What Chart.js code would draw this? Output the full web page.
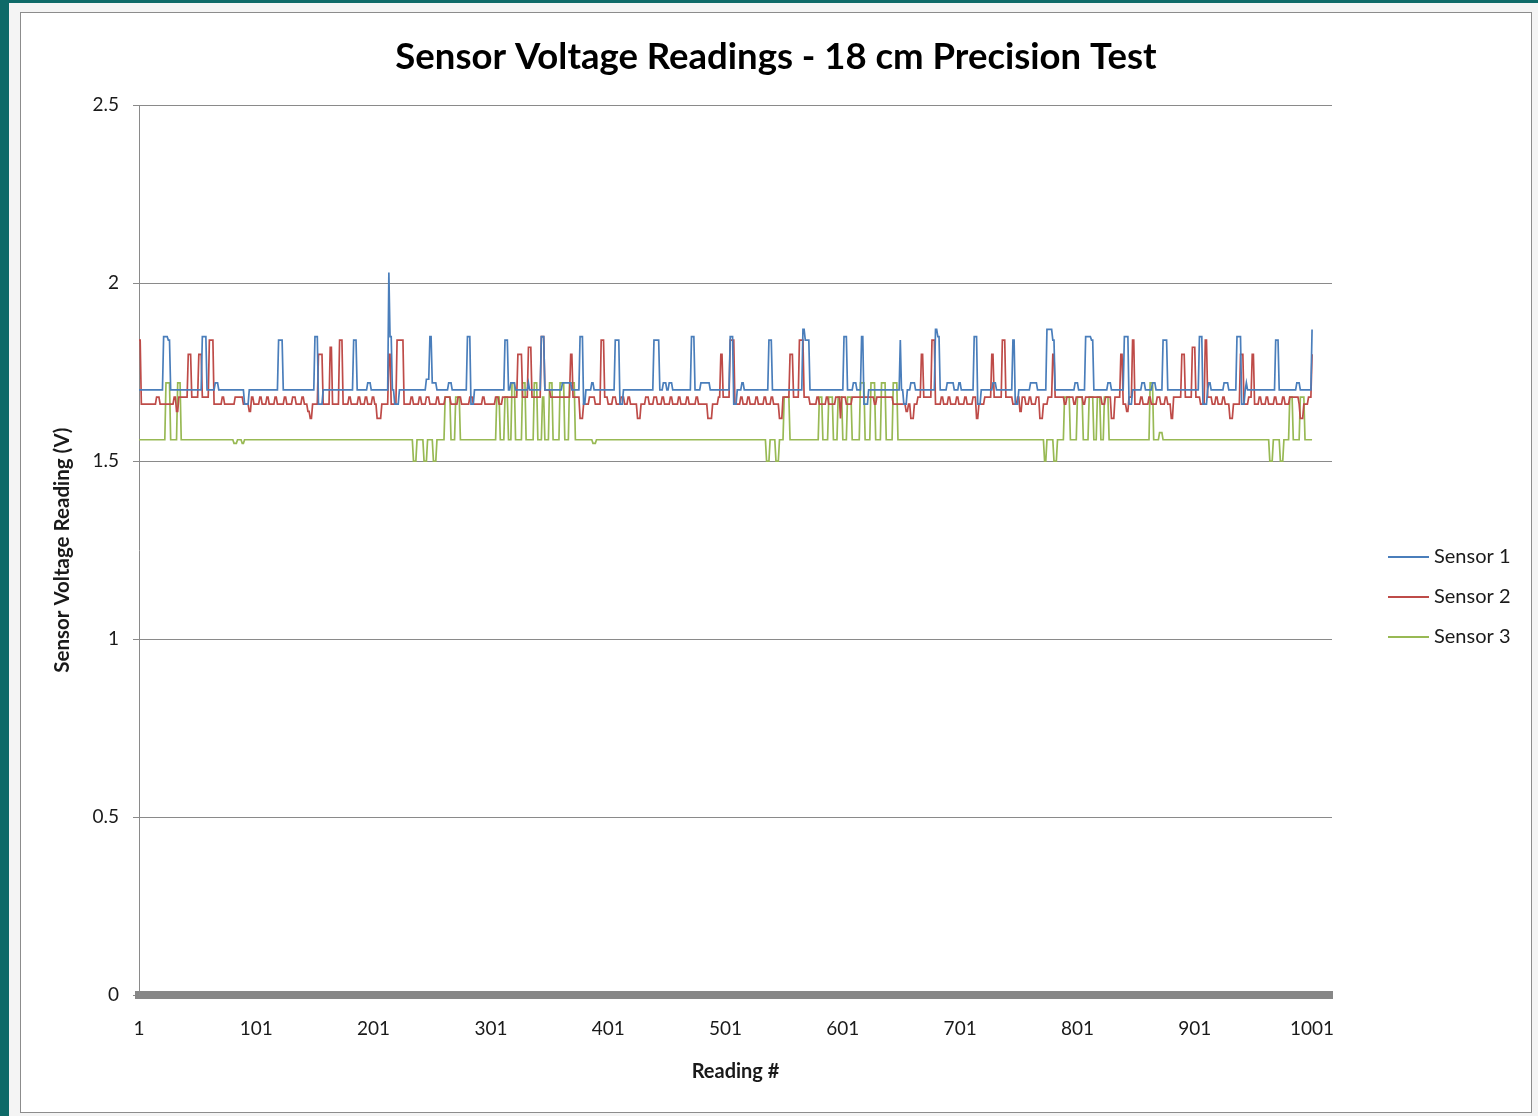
<!DOCTYPE html>
<html>
<head>
<meta charset="utf-8">
<script src="https://cdn.jsdelivr.net/npm/chart.js@4.4.1/dist/chart.umd.min.js"></script>
<style>
html, body { margin: 0; padding: 0; background: #0e6a68; }
#sheet { position: absolute; left: 9px; top: 3px; width: 1529px; height: 1113px; background: #f4f4f4; }
#box { position: absolute; left: 20px; top: 12px; width: 1510px; height: 1099px; border: 1px solid #8c8c8c; background: #fff; }
canvas { display: block; }
</style>
</head>
<body>
<div id="sheet"></div>
<div id="box"><canvas id="myChart" width="1510" height="1099"></canvas></div>
<script>
// DATA: readings are stored as step lists [reading #, voltage] - value holds until the next entry
var readingCount = 1001;
var seriesNames = ["Sensor 1", "Sensor 2", "Sensor 3"];
var xTickLabels = [1, 101, 201, 301, 401, 501, 601, 701, 801, 901, 1001];
var yTickValues = [0, 0.5, 1, 1.5, 2, 2.5];

var sensor1Steps = [
    [1,1.70],[22,1.85],[26,1.84],[28,1.70],[55,1.85],[59,1.70],[66,1.72],[69,1.70],[91,1.66],[95,1.70],
    [120,1.84],[124,1.70],[151,1.85],[154,1.66],[158,1.70],[184,1.84],[187,1.70],[196,1.72],[199,1.70],
    [214,2.03],[215,1.85],[217,1.70],[219,1.66],[223,1.70],[246,1.73],[249,1.85],[251,1.72],[255,1.70],
    [265,1.72],[268,1.70],[281,1.85],[284,1.66],[287,1.70],
    [313,1.84],[316,1.70],[318,1.72],[322,1.70],[333,1.72],[334,1.70],[344,1.85],[347,1.70],[362,1.72],
    [370,1.70],[377,1.85],[380,1.66],[382,1.70],[387,1.72],[389,1.70],[407,1.84],
    [411,1.66],[414,1.70],[440,1.84],[445,1.70],[448,1.72],[451,1.70],[453,1.72],[456,1.70],[472,1.85],
    [475,1.70],[480,1.72],[488,1.70],[505,1.85],[508,1.66],
    [511,1.70],[515,1.72],[517,1.70],[538,1.84],[541,1.70],[567,1.87],[569,1.84],[573,1.70],[602,1.85],
    [605,1.70],[610,1.72],
    [613,1.70],[617,1.85],[619,1.66],[623,1.70],[650,1.84],[651,1.70],[653,1.66],[656,1.70],[659,1.72],
    [663,1.70],[680,1.87],[682,1.85],[684,1.70],[690,1.72],[696,1.70],[700,1.72],[702,1.70],[713,1.85],
    [716,1.66],[719,1.70],[729,1.72],[732,1.70],[746,1.84],[748,1.66],[751,1.70],[761,1.72],[767,1.70],
    [775,1.87],[780,1.84],[782,1.70],[799,1.72],[802,1.70],[808,1.85],[813,1.84],[815,1.70],
    [827,1.72],[830,1.70],[841,1.85],[845,1.66],[848,1.70],[856,1.72],[859,1.70],[865,1.72],[868,1.70],
    [874,1.84],[878,1.70],[905,1.85],[908,1.66],[912,1.70],[913,1.72],[915,1.70],
    [926,1.72],[930,1.70],[937,1.85],[941,1.66],[944,1.70],[945,1.72],[946,1.70],[970,1.84],[973,1.70],
    [988,1.72],[991,1.70],[1001,1.87]
];

var sensor2Steps = [
    [1,1.84],[3,1.66],[16,1.68],[19,1.66],[31,1.68],[33,1.64],[35,1.68],[43,1.80],[46,1.68],[52,1.80],
    [55,1.68],[61,1.84],[65,1.66],[72,1.68],[74,1.66],[83,1.68],[90,1.66],[95,1.64],[97,1.68],[99,1.66],
    [104,1.68],[106,1.66],[110,1.68],[112,1.66],[117,1.68],[119,1.66],[125,1.68],[127,1.66],[132,1.68],
    [135,1.66],[140,1.68],[142,1.66],[145,1.64],[147,1.62],[149,1.66],[154,1.80],[158,1.66],[164,1.82],
    [166,1.66],[172,1.84],[175,1.66],[180,1.68],[182,1.66],[188,1.68],[190,1.66],[194,1.68],[196,1.66],
    [200,1.68],[202,1.66],
    [204,1.62],[208,1.66],[214,1.80],[216,1.66],[221,1.84],[227,1.66],[233,1.68],[235,1.66],[240,1.68],
    [242,1.66],[246,1.68],[249,1.66],[255,1.68],[257,1.66],[262,1.68],[267,1.66],[273,1.68],[276,1.66],
    [283,1.68],[286,1.66],[294,1.68],[296,1.66],
    [305,1.68],[308,1.66],[311,1.68],[324,1.80],[328,1.68],[333,1.82],[336,1.68],[344,1.85],[347,1.70],
    [352,1.68],[369,1.80],[371,1.68],[377,1.62],[380,1.66],[385,1.68],[390,1.66],[395,1.84],[398,1.68],
    [401,1.66],[405,1.68],
    [408,1.66],[412,1.68],[415,1.66],[418,1.68],[420,1.66],[426,1.62],[429,1.66],[433,1.68],[436,1.66],
    [440,1.68],[443,1.66],[447,1.68],[449,1.66],[454,1.68],[456,1.66],[461,1.68],[463,1.66],[468,1.68],
    [470,1.66],[476,1.68],[478,1.66],[486,1.62],[490,1.66],[495,1.68],[497,1.80],[499,1.68],[505,1.84],
    [509,1.66],
    [514,1.68],[516,1.66],[520,1.68],[522,1.66],[527,1.68],[529,1.66],[534,1.68],[536,1.66],[540,1.68],
    [542,1.66],[547,1.62],[550,1.68],[556,1.80],[559,1.68],[564,1.84],[568,1.68],[573,1.66],[579,1.68],
    [581,1.66],[587,1.68],[589,1.66],[595,1.68],[599,1.62],[600,1.68],[604,1.66],[609,1.68],
    [628,1.66],[630,1.68],[644,1.66],[655,1.64],[657,1.66],[659,1.62],[662,1.66],[665,1.68],[668,1.80],
    [670,1.68],[677,1.84],[680,1.66],[685,1.68],[687,1.66],[691,1.68],[693,1.66],[698,1.68],[700,1.66],
    [705,1.68],[707,1.66],[712,1.68],
    [715,1.62],[717,1.66],[722,1.68],[728,1.80],[730,1.68],[737,1.84],[740,1.68],[746,1.66],[750,1.68],
    [752,1.64],[754,1.68],[757,1.66],[760,1.68],[762,1.66],[766,1.68],[769,1.62],[772,1.66],[776,1.68],
    [780,1.80],[782,1.68],[790,1.66],[792,1.68],[798,1.66],[800,1.68],[806,1.66],[808,1.68],
    [822,1.66],[825,1.68],[830,1.62],[833,1.68],[838,1.80],[840,1.66],[843,1.64],[845,1.68],[848,1.84],
    [850,1.66],[855,1.68],[857,1.66],[862,1.68],[864,1.66],[869,1.68],[872,1.66],[876,1.68],[878,1.66],
    [881,1.62],[883,1.68],[890,1.80],[893,1.68],[899,1.82],[902,1.68],[906,1.66],[910,1.84],[912,1.68],
    [916,1.66],
    [919,1.68],[921,1.66],[925,1.68],[927,1.66],[931,1.62],[934,1.66],[940,1.80],[943,1.66],[947,1.68],
    [950,1.80],[952,1.66],[956,1.68],[958,1.66],[962,1.68],[964,1.66],[969,1.68],[971,1.66],[976,1.68],
    [978,1.66],[982,1.68],[990,1.66],[991,1.62],[994,1.66],[998,1.68],[1001,1.80]
];

var sensor3Steps = [
    [1,1.56],[24,1.72],[28,1.56],[34,1.72],[37,1.56],[82,1.55],[85,1.56],[89,1.55],[91,1.56],
    [235,1.50],[238,1.56],[244,1.50],[247,1.56],[252,1.50],[255,1.56],[262,1.68],[267,1.56],[271,1.68],
    [275,1.56],
    [306,1.68],[309,1.56],[313,1.68],[316,1.56],[319,1.72],[322,1.56],[328,1.72],[331,1.56],[338,1.72],
    [341,1.56],[345,1.68],[347,1.56],[351,1.72],[354,1.56],[360,1.72],[364,1.56],[368,1.72],[373,1.56],
    [388,1.55],[391,1.56],
    [536,1.50],[539,1.56],[544,1.50],[547,1.56],[551,1.68],[556,1.56],[581,1.68],[584,1.56],[589,1.68],
    [593,1.56],[597,1.68],[601,1.56],[605,1.68],[609,1.56],
    [616,1.72],[620,1.56],[625,1.72],[629,1.56],[634,1.72],[638,1.56],[644,1.72],[648,1.56],
    [773,1.50],[775,1.56],[781,1.50],[784,1.56],[790,1.68],[795,1.56],[801,1.68],[806,1.56],[811,1.68],
    [815,1.56],[818,1.68],[821,1.56],[824,1.68],[828,1.56],[863,1.72],[866,1.56],[871,1.58],[874,1.56],
    [965,1.50],[968,1.56],[974,1.50],[977,1.56],[982,1.68],[985,1.56],[991,1.68],[995,1.56]
];

// function: TURN A STEP LIST INTO ONE POINT PER READING
var expandSteps = function(steps) {
    var points = [];
    var k = 0;
    for (var n = 1; n <= readingCount; n++) {
        while (k + 1 < steps.length && steps[k + 1][0] <= n) {
            k++;
        }
        points.push({ x: n, y: steps[k][1] });
    }
    return points;
};

var lineColors = ["#4a7ebb", "#be4b48", "#98b954"];
var fontName = "Lato, 'Open Sans', sans-serif";

// plugin: LEGEND DRAWN TO THE RIGHT OF THE PLOT, LIKE THE EXCEL ONE
var sideLegend = {
    id: "sideLegend",
    afterDraw: function(chart) {
        var ctx = chart.ctx;
        ctx.save();
        ctx.font = "20px " + fontName;
        ctx.textBaseline = "middle";
        chart.data.datasets.forEach(function(ds, i) {
            var y = 544 + i * 40;
            ctx.strokeStyle = ds.borderColor;
            ctx.lineWidth = 2;
            ctx.beginPath();
            ctx.moveTo(1367, y);
            ctx.lineTo(1408, y);
            ctx.stroke();
            ctx.fillStyle = "#1a1a1a";
            ctx.fillText(ds.label, 1413, y);
        });
        ctx.restore();
    }
};

var datasets = [sensor1Steps, sensor2Steps, sensor3Steps].map(function(steps, i) {
    return {
        label: seriesNames[i],
        data: expandSteps(steps),
        borderColor: lineColors[i],
        borderWidth: 1.7,
        pointRadius: 0,
        tension: 0,
        fill: false
    };
});

let myChart = document.getElementById("myChart").getContext("2d");

let voltageChart = new Chart(myChart, {
    type: "line",
    data: { datasets: datasets },
    plugins: [sideLegend],
    options: {
        responsive: false,
        animation: false,
        layout: {
            padding: 0
        },
        plugins: {
            legend: { display: false },
            tooltip: { enabled: false },
            title: {
                display: true,
                text: "Sensor Voltage Readings - 18 cm Precision Test",
                color: "#000",
                font: { family: fontName, size: 36.5, weight: "bold" },
                padding: { top: 22, bottom: 26.4 }
            }
        },
        scales: {
            x: {
                type: "linear",
                min: 1,
                max: 1018,
                afterBuildTicks: function(scale) {
                    scale.ticks = xTickLabels.map(function(v) { return { value: v }; });
                },
                afterFit: function(scale) {
                    scale.height = 117;
                },
                ticks: {
                    autoSkip: false,
                    maxRotation: 0,
                    padding: 22,
                    color: "#1a1a1a",
                    font: { family: fontName, size: 19 },
                    callback: function(v) { return String(v); }
                },
                grid: { drawOnChartArea: false, drawTicks: false },
                border: { color: "#878787", width: 8 },
                title: {
                    display: true,
                    text: "Reading #",
                    color: "#1a1a1a",
                    font: { family: fontName, size: 20, weight: "bold" },
                    padding: { top: 0, bottom: 28 }
                }
            },
            y: {
                min: 0,
                max: 2.5,
                afterBuildTicks: function(scale) {
                    scale.ticks = yTickValues.map(function(v) { return { value: v }; });
                },
                afterFit: function(scale) {
                    scale.width = 118;
                },
                ticks: {
                    padding: 14,
                    color: "#1a1a1a",
                    font: { family: fontName, size: 19 },
                    callback: function(v) { return String(v); }
                },
                grid: { color: "#8a8a8a", lineWidth: 1, tickLength: 6 },
                border: { color: "#8a8a8a", width: 1 },
                title: {
                    display: true,
                    text: "Sensor Voltage Reading (V)",
                    color: "#1a1a1a",
                    font: { family: fontName, size: 20.5, weight: "bold" },
                    padding: { top: 29, bottom: 0 }
                }
            },
            // empty box on the right that keeps room for the legend
            legendRoom: {
                type: "linear",
                position: "right",
                min: 0,
                max: 1,
                afterFit: function(scale) {
                    scale.width = 199;
                },
                ticks: { display: false },
                grid: { display: false },
                border: { display: false }
            }
        }
    }
});
</script>
</body>
</html>
